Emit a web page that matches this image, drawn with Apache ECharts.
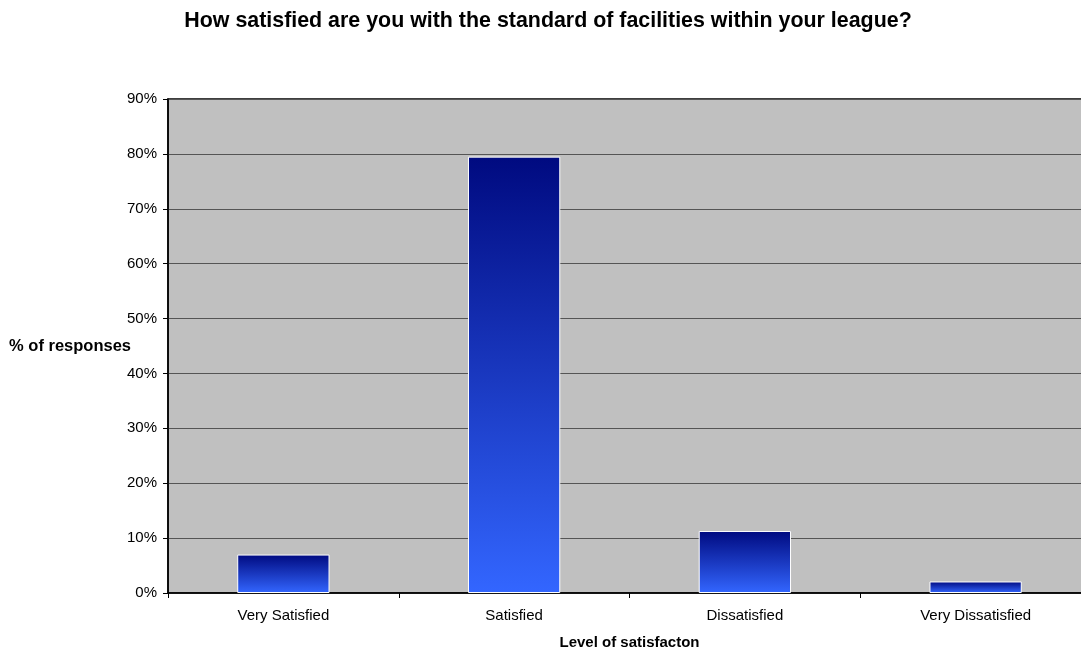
<!DOCTYPE html>
<html><head><meta charset="utf-8">
<script src="https://cdn.jsdelivr.net/npm/echarts@6/dist/echarts.min.js"></script>
<style>html,body{margin:0;padding:0;background:#fff}#c{width:1081px;height:650px}</style>
</head><body><div id="c"></div>
<script>
var categories = ['Very Satisfied', 'Satisfied', 'Dissatisfied', 'Very Dissatisfied'];
var values = [7.0, 79.5, 11.3, 2.1];
var yTicks = [0, 10, 20, 30, 40, 50, 60, 70, 80, 90];

var chart = echarts.init(document.getElementById('c'));
var font = 'Liberation Sans, Arial, sans-serif';
chart.setOption({
  backgroundColor: '#fff',
  animation: false,
  title: {
    text: 'How satisfied are you with the standard of facilities within your league?',
    left: 543, top: 6, textAlign: 'center',
    textStyle: {fontFamily: font, fontSize: 21.4, fontWeight: 'bold', color: '#000'}
  },
  grid: {left: 168, right: -10, top: 99, bottom: 57, containLabel: false, outerBoundsMode: 'none',
    show: true, backgroundColor: '#c0c0c0', borderColor: '#000', borderWidth: 1.5},
  xAxis: {
    type: 'category', data: categories,
    axisLine: {lineStyle: {color: '#000', width: 1.5}},
    axisTick: {show: true, alignWithLabel: false, length: 5, lineStyle: {color: '#000'}},
    axisLabel: {fontFamily: font, fontSize: 15, color: '#000', margin: 15},
    name: 'Level of satisfacton', nameLocation: 'middle', nameGap: 42, nameMoveOverlap: false,
    nameTextStyle: {fontFamily: font, fontSize: 15, fontWeight: 'bold', color: '#000'}
  },
  yAxis: {
    type: 'value', min: yTicks[0], max: yTicks[yTicks.length - 1], interval: 10,
    axisLine: {show: true, lineStyle: {color: '#000', width: 1.5}},
    axisTick: {show: true, length: 5, lineStyle: {color: '#000'}},
    axisLabel: {fontFamily: font, fontSize: 15, color: '#000', margin: 11, formatter: '{value}%'},
    splitLine: {show: true, lineStyle: {color: '#555', width: 1}},
    name: '% of responses', nameLocation: 'middle', nameRotate: 0, nameGap: 37, nameMoveOverlap: false,
    nameTextStyle: {fontFamily: font, fontSize: 16.5, fontWeight: 'bold', color: '#000', align: 'right'}
  },
  series: [{
    type: 'bar', data: values, barWidth: '40%',
    itemStyle: {
      borderColor: '#fff', borderWidth: 1,
      color: new echarts.graphic.LinearGradient(0, 0, 0, 1, [
        {offset: 0, color: '#000a80'},
        {offset: 1, color: '#3366ff'}
      ])
    }
  }]
});
</script></body></html>
